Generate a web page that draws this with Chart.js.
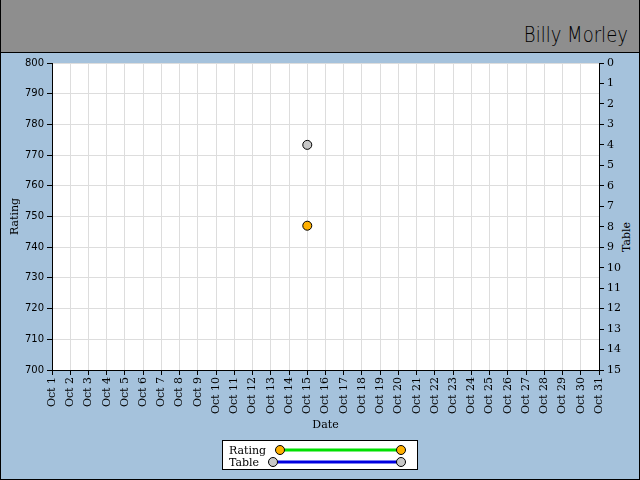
<!DOCTYPE html>
<html>
<head>
<meta charset="utf-8">
<script src="https://cdn.jsdelivr.net/npm/chart.js@4"></script>
<style>
  html, body { margin: 0; padding: 0; }
  body { width: 640px; height: 480px; position: relative; overflow: hidden; background: #a5c2dc; font-family: "DejaVu Serif", serif; }
  #frame { position: absolute; left: 0; top: 0; width: 638px; height: 479px; border: 1px solid #000; border-top: none; }
  #header { position: absolute; left: 0; top: 0; width: 638px; height: 52px; background: #8e8e8e; border: 1px solid #000; border-top: none; }
  #name { position: absolute; right: 11px; top: 22px; font-family: "DejaVu Sans", sans-serif; font-weight: 200; font-size: 22px; color: #000; transform: scaleX(0.82); transform-origin: right center; }
  #tableTitle { position: absolute; left: 626px; top: 237px; transform: translate(-50%, -50%) rotate(-90deg); font-size: 11px; white-space: nowrap; }
  canvas { position: absolute; left: 0; top: 0; }
</style>
</head>
<body>
<div id="frame"></div>
<div id="header"><div id="name">Billy Morley</div></div>
<div id="tableTitle">Table</div>
<canvas id="chart0" width="640" height="480"></canvas>
<script>
// data
const dates = ["Oct 1", "Oct 2", "Oct 3", "Oct 4", "Oct 5", "Oct 6", "Oct 7", "Oct 8", "Oct 9", "Oct 10",
    "Oct 11", "Oct 12", "Oct 13", "Oct 14", "Oct 15", "Oct 16", "Oct 17", "Oct 18", "Oct 19", "Oct 20",
    "Oct 21", "Oct 22", "Oct 23", "Oct 24", "Oct 25", "Oct 26", "Oct 27", "Oct 28", "Oct 29", "Oct 30", "Oct 31"];
const rating = [null, null, null, null, null, null, null, null, null, null, null, null, null, null, 747,
    null, null, null, null, null, null, null, null, null, null, null, null, null, null, null, null];
const table = [null, null, null, null, null, null, null, null, null, null, null, null, null, null, 4,
    null, null, null, null, null, null, null, null, null, null, null, null, null, null, null, null];

const seriesNames = ["Rating", "Table"];
const lineColors = ["#00e000", "#0000e0"];
const pointColors = ["#ffb000", "#c8c8c8"];

// legend box drawn on the canvas
const legendBox = {
    id: "legendBox",
    afterDraw(chart) {
        const ctx = chart.ctx;
        ctx.save();
        ctx.fillStyle = "#fff";
        ctx.fillRect(222, 440, 196, 30);
        ctx.strokeStyle = "#000";
        ctx.lineWidth = 1;
        ctx.strokeRect(222.5, 440.5, 195, 29);
        ctx.font = "11px 'DejaVu Serif'";
        ctx.textBaseline = "middle";
        const rows = [[450, 280], [462, 273]];
        for (let i = 0; i < 2; i++) {
            const y = rows[i][0];
            const x0 = rows[i][1];
            ctx.fillStyle = "#000";
            ctx.fillText(seriesNames[i], 229, y + 1);
            ctx.strokeStyle = lineColors[i];
            ctx.lineWidth = 3;
            ctx.beginPath();
            ctx.moveTo(x0, y);
            ctx.lineTo(401, y);
            ctx.stroke();
            for (const x of [x0, 401]) {
                ctx.beginPath();
                ctx.arc(x, y, 4.5, 0, Math.PI * 2);
                ctx.fillStyle = pointColors[i];
                ctx.fill();
                ctx.strokeStyle = "#000";
                ctx.lineWidth = 1;
                ctx.stroke();
            }
        }
        ctx.restore();
    }
};

// white plot area
const plotBg = {
    id: "plotBg",
    beforeDraw(chart) {
        const a = chart.chartArea;
        chart.ctx.save();
        chart.ctx.fillStyle = "#fff";
        chart.ctx.fillRect(a.left, a.top, a.right - a.left, a.bottom - a.top);
        chart.ctx.restore();
    }
};

function createChart() {
    const ctx = document.getElementById("chart0").getContext("2d");
    return new Chart(ctx, {
        type: "line",
        data: {
            labels: dates,
            datasets: [
                {
                    label: seriesNames[0],
                    data: rating,
                    yAxisID: "y",
                    borderColor: lineColors[0],
                    borderWidth: 3,
                    pointRadius: 4.5,
                    pointBackgroundColor: pointColors[0],
                    pointBorderColor: "#000",
                    pointBorderWidth: 1,
                },
                {
                    label: seriesNames[1],
                    data: table,
                    yAxisID: "y2",
                    borderColor: lineColors[1],
                    borderWidth: 3,
                    pointRadius: 4.5,
                    pointBackgroundColor: pointColors[1],
                    pointBorderColor: "#000",
                    pointBorderWidth: 1,
                },
            ],
        },
        options: {
            responsive: false,
            animation: false,
            layout: { padding: { top: 63, left: 0, right: 0, bottom: 0 } },
            scales: {
                x: {
                    offset: false,
                    afterFit: (s) => { s.height = 110; },
                    grid: { color: "#dddddd", tickColor: "#000", tickLength: 5 },
                    border: { color: "#000", width: 1 },
                    ticks: {
                        autoSkip: false,
                        minRotation: 90,
                        maxRotation: 90,
                        padding: 2,
                        color: "#000",
                        font: { family: "DejaVu Serif", size: 11 },
                    },
                    title: {
                        display: true,
                        text: "Date",
                        color: "#000",
                        font: { family: "DejaVu Serif", size: 11 },
                        padding: { top: 0, bottom: 48 },
                    },
                },
                y: {
                    position: "left",
                    min: 700,
                    max: 800,
                    afterFit: (s) => { s.width = 52; },
                    grid: { color: "#dddddd", tickColor: "#000", tickLength: 5 },
                    border: { color: "#000", width: 1 },
                    ticks: {
                        stepSize: 10,
                        padding: 3,
                        color: "#000",
                        font: { family: "DejaVu Sans", size: 10 },
                    },
                    title: {
                        display: true,
                        text: "Rating",
                        color: "#000",
                        font: { family: "DejaVu Serif", size: 11 },
                        padding: { top: 9, bottom: 0 },
                    },
                },
                y2: {
                    position: "right",
                    min: 0,
                    max: 15,
                    reverse: true,
                    afterFit: (s) => { s.width = 41; },
                    grid: { drawOnChartArea: false, color: "#000", tickColor: "#000", tickLength: 5 },
                    border: { color: "#000", width: 1 },
                    ticks: {
                        stepSize: 1,
                        padding: 3,
                        color: "#000",
                        font: { family: "DejaVu Serif", size: 11 },
                    },
                },
            },
            plugins: {
                legend: { display: false },
                tooltip: { enabled: false },
            },
        },
        plugins: [plotBg, legendBox],
    });
}

window.chart = createChart();
</script>
</body>
</html>
